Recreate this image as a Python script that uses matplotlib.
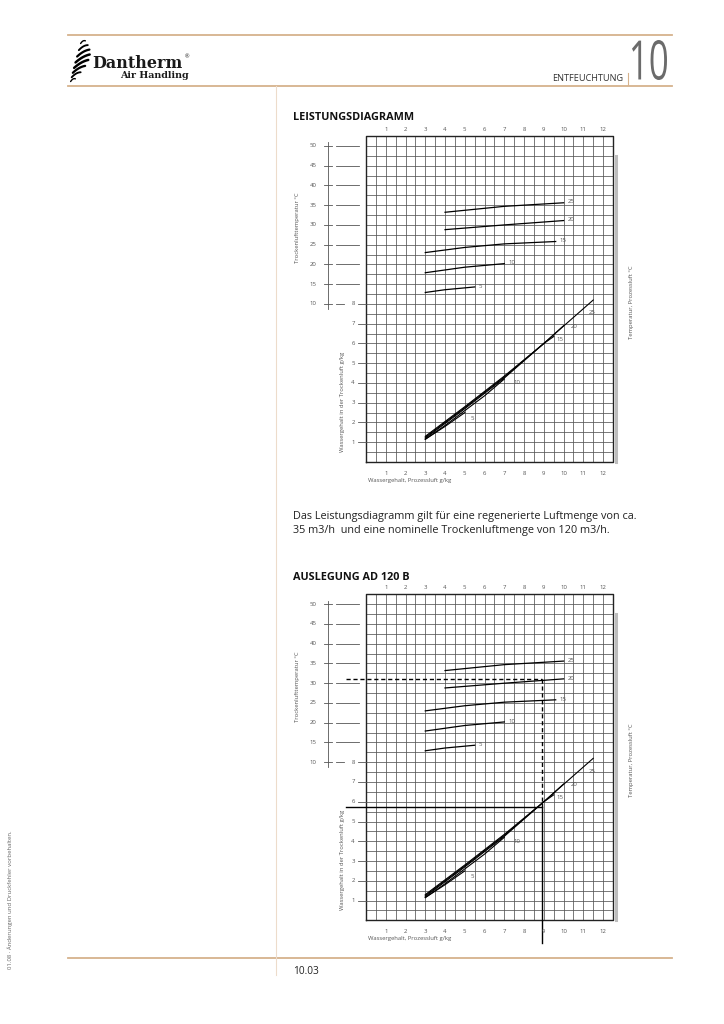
import numpy as np
import matplotlib.pyplot as plt
from matplotlib.textpath import TextPath
from matplotlib.patches import PathPatch
from matplotlib.font_manager import FontProperties
from matplotlib.transforms import Affine2D

plt.rcParams['font.family'] = ['Open Sans', 'DejaVu Sans']

W, H = 724, 1024

# Werte
process_ticks = list(range(1, 13))          # Wassergehalt Prozessluft g/kg
water_ticks = list(range(1, 9))             # Wassergehalt Trockenluft g/kg
temp_ticks = list(range(10, 55, 5))         # Trockenlufttemperatur °C

curve_labels = ["5", "10", "15", "20", "25"]  # Temperatur Prozessluft °C

# Trockenlufttemperatur je Prozesslufttemperatur
temp_x = [[3, 4, 5.5], [3, 5, 7], [3, 5, 7, 9.6], [4, 7, 10], [4, 7, 10]]
temp_y = [[12.9, 13.6, 14.3], [17.9, 19.3, 20.2], [23.0, 24.3, 25.2, 25.8],
          [28.8, 30.0, 31.1], [33.2, 34.7, 35.6]]

# Wassergehalt Trockenluft je Prozesslufttemperatur
water_x = [[3, 4, 5], [3, 4, 5, 6, 7], [3, 5, 7, 9, 9.5], [3, 5, 7, 9, 10], [3, 5, 7, 9, 11.5]]
water_y = [[1.15, 1.8, 2.5], [1.15, 1.85, 2.6, 3.35, 4.2], [1.2, 2.7, 4.25, 6.0, 6.35],
           [1.25, 2.75, 4.3, 6.0, 6.9], [1.3, 2.8, 4.35, 6.0, 8.2]]

# Beispiel Auslegung AD 120 B
ex_temp = 31
ex_process = 8.93
ex_water = 5.75


def water_to_temp(w):
    return 10 + (w - 8) * 5


def temp_to_water(t):
    return 8 + (t - 10) / 5


fig = plt.figure(figsize=(W / 100, H / 100), dpi=100)

page = fig.add_axes([0, 0, 1, 1])
page.set_xlim(0, W)
page.set_ylim(H, 0)
page.axis('off')

tan = '#d6b28c'
page.plot([68, 672], [34.5, 34.5], color=tan, lw=1.3)
page.plot([68, 672], [86, 86], color=tan, lw=1.3)
page.plot([68, 672], [958, 958], color=tan, lw=1.3)
page.plot([275.5, 275.5], [86, 975], color='#eddccb', lw=0.8)
page.plot([627.5, 627.5], [73, 85], color=tan, lw=0.8)

page.text(623, 78.5, "ENTFEUCHTUNG", ha='right', va='center', fontsize=6.6, color='#333333')

# grosse Kapitelnummer, schmal gezogen
tp = TextPath((0, 0), "10", size=1, prop=FontProperties(family='Open Sans'))
bb = tp.get_extents()
sx = 35 / bb.width
sy = 40 / bb.height
tr = Affine2D().translate(-bb.x0, -bb.y0).scale(sx, -sy).translate(632, 80) + page.transData
page.add_patch(PathPatch(tp, facecolor='#6b6b6b', edgecolor='none', transform=tr))

# Logo
t = np.linspace(0, 1, 8)
for i, tt in enumerate(t):
    cx = 83 - 10 * tt + 4 * np.sin(np.pi * tt)
    cy = 41 + 38 * tt
    L = 3 + 6 * np.sin(np.pi * tt)
    s = np.linspace(-1, 1, 10)
    xs = cx + L * s * 0.8
    ys = cy - L * s * 0.45 + 1.2 * (s ** 2)
    page.plot(xs, ys, color='black', lw=1.0 + 0.8 * np.sin(np.pi * tt), solid_capstyle='round')
page.text(92, 63, "Dantherm", ha='left', va='center', fontsize=11.5, fontweight='bold',
          family=['DejaVu Serif'], color='#1a1a1a')
page.text(185, 57, "®", fontsize=4, color='#1a1a1a', ha='left', va='center')
page.text(189, 75, "Air Handling", ha='right', va='center', fontsize=6.8, fontweight='bold',
          family=['DejaVu Serif'], color='#1a1a1a')

page.text(293, 118, "LEISTUNGSDIAGRAMM", ha='left', va='center', fontsize=7.8, fontweight='bold', color='#111111')
page.text(293, 517, "Das Leistungsdiagramm gilt für eine regenerierte Luftmenge von ca.",
          ha='left', va='center', fontsize=7.8, color='#222222')
page.text(293, 531, "35 m3/h  und eine nominelle Trockenluftmenge von 120 m3/h.",
          ha='left', va='center', fontsize=7.8, color='#222222')
page.text(293, 577, "AUSLEGUNG AD 120 B", ha='left', va='center', fontsize=7.8, fontweight='bold', color='#111111')
page.text(293, 971, "10.03", ha='left', va='center', fontsize=7.3, color='#222222')
page.text(10, 900, "01.08 · Änderungen und Druckfehler vorbehalten.", rotation=90,
          ha='center', va='center', fontsize=4.3, color='#666666')


def chart(top_px, example=False):
    ax = fig.add_axes([366 / W, 1 - (top_px + 326) / H, 247 / W, 326 / H])
    ax.set_xlim(0, 12.5)
    ax.set_ylim(0, 16.5)
    ax.axis('off')
    axt = ax.twinx()
    axt.set_ylim(water_to_temp(0), water_to_temp(16.5))
    axt.axis('off')

    grey = '#555555'
    lab = '#555555'
    ax.vlines(np.arange(0, 12.51, 0.5), 0, 16.5, color=grey, lw=0.55)
    ax.hlines(np.arange(0, 16.51, 0.5), 0, 12.5, color=grey, lw=0.55)
    ax.plot([0, 12.5, 12.5, 0, 0], [0, 0, 16.5, 16.5, 0], color='#222222', lw=1.0, clip_on=False)

    # Prozessluft-Achse oben und unten
    for v in process_ticks:
        ax.text(v, 16.82, str(v), ha='center', va='center', fontsize=4.3, color=lab, clip_on=False)
        ax.text(v, -0.56, str(v), ha='center', va='center', fontsize=4.3, color=lab, clip_on=False)
    ax.text(0.1, -0.93, "Wassergehalt, Prozessluft g/kg", ha='left', va='center',
            fontsize=4.2, color=lab, clip_on=False)

    # Temperatur-Achse links
    axt.plot([-1.92, -1.92], [8.7, 50.9], color=grey, lw=0.6, clip_on=False)
    for v in temp_ticks:
        axt.plot([-2.12, -1.72], [v, v], color=grey, lw=0.6, clip_on=False)
        end = -1.1 if v == 10 else -0.35
        axt.plot([-1.52, end], [v, v], color=grey, lw=0.6, clip_on=False)
        axt.text(-2.68, v, str(v), ha='center', va='center', fontsize=4.3, color=lab, clip_on=False)
    ax.text(-3.49, 11.84, "Trockenlufttemperatur °C", rotation=90, ha='center', va='center',
            fontsize=4.2, color=lab, clip_on=False)

    # Wassergehalt-Achse links
    for v in water_ticks:
        ax.plot([-0.42, 0], [v, v], color=grey, lw=0.6, clip_on=False)
        ax.text(-0.66, v, str(v), ha='center', va='center', fontsize=4.3, color=lab, clip_on=False)
    ax.text(-1.21, 3.04, "Wassergehalt in der Trockenluft g/kg", rotation=90, ha='center', va='center',
            fontsize=4.2, color=lab, clip_on=False)

    # Temperatur Prozessluft rechts
    ax.plot([12.65, 12.65], [0, 15.5], color='#bdbdbd', lw=2.2, clip_on=False)
    ax.text(13.46, 8.1, "Temperatur, Prozessluft °C", rotation=90, ha='center', va='center',
            fontsize=4.2, color=lab, clip_on=False)

    for name, xs, ys in zip(curve_labels, temp_x, temp_y):
        axt.plot(xs, ys, color='black', lw=0.9)
        axt.text(xs[-1] + 0.2, ys[-1] + 0.2, name, ha='left', va='center', fontsize=4.3, color=lab)
    lab_pos = [(5.3, 2.2), (7.45, 4.0), (9.65, 6.2), (10.35, 6.85), (11.25, 7.55)]
    for name, xs, ys, (lx, ly) in zip(curve_labels, water_x, water_y, lab_pos):
        ax.plot(xs, ys, color='black', lw=0.8)
        ax.text(lx, ly, name, ha='left', va='center', fontsize=4.3, color=lab)

    if example:
        axt.plot([-1.0, ex_process], [ex_temp, ex_temp], color='black', lw=1.0,
                 ls=(0, (3, 2)), clip_on=False)
        ax.plot([ex_process, ex_process], [temp_to_water(ex_temp), 5.9], color='black', lw=1.0,
                ls=(0, (3, 2)))
        ax.plot([-1.0, ex_process], [ex_water, ex_water], color='black', lw=1.0, clip_on=False)
        ax.plot([ex_process, ex_process], [ex_water + 0.15, -1.15], color='black', lw=1.0, clip_on=False)


chart(136)
chart(594.3, example=True)

fig.savefig("out.png", dpi=100)
